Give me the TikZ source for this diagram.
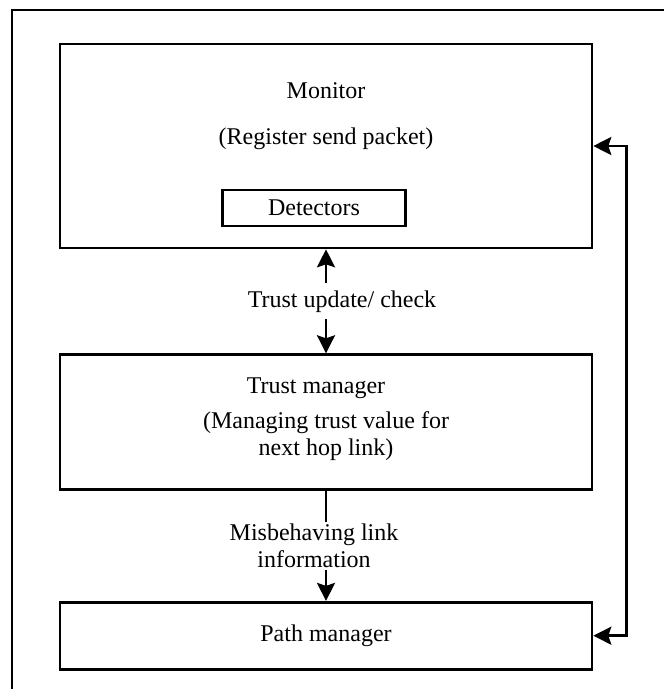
\documentclass[tikz,border=0pt]{standalone}
\usepackage{fontspec}
\setmainfont{Liberation Serif}
\usetikzlibrary{positioning, calc, arrows.meta}

\begin{document}
\begin{tikzpicture}[
        font=\fontsize{12}{13.5}\selectfont,
        node distance=52pt,
        % Style des blocs
        blockBox/.style={
            draw,
            line width=1.3pt,
            minimum width=266pt,
            align=center
        },
        % Style des textes libres
        txtNode/.style={
            align=center
        },
        % Style des flèches
        linkArrow/.style={
            -{Stealth[length=9pt, width=9pt, inset=1.5pt]},
            line width=1.3pt
        },
        bothArrow/.style={
            {Stealth[length=9pt, width=9pt, inset=1.5pt]}-{Stealth[length=9pt, width=9pt, inset=1.5pt]},
            line width=1.3pt
        }
    ]

    \useasboundingbox (0,0) rectangle (331.5pt,-344.5pt);

    % Cadre extérieur
    \draw[line width=1.3pt] (6pt,-5pt) rectangle (340pt,-352pt);

    % Moniteur
    \node[blockBox, minimum height=102pt] (monitor) at (163pt,-73pt) {};
    \node[txtNode] (monTitle) at ([yshift=-24pt]monitor.north) {Monitor};
    \node[txtNode] (monSub) at ([yshift=-48pt]monitor.north) {(Register send packet)};
    \node[blockBox, minimum width=91.5pt, minimum height=18pt, inner sep=0pt,
          above=11pt of monitor.south, xshift=-6pt] (detectors) {Detectors};

    % Gestionnaire de confiance
    \node[blockBox, minimum height=67.5pt, below=of monitor] (trust) {};
    \node[txtNode] (trustTitle) at ([xshift=-5pt, yshift=-17.5pt]trust.north) {Trust manager};
    \node[txtNode] (trustSub) at ([yshift=-41.25pt]trust.north) {(Managing trust value for\\next hop link)};

    % Gestionnaire de chemin
    \node[blockBox, minimum height=33.5pt, below=55pt of trust] (path) {Path manager};

    % Étiquettes entre les blocs
    \node[txtNode] (update) at ([xshift=8pt]$(monitor.south)!0.5!(trust.north)$) {Trust update/ check};
    \node[txtNode, inner sep=1pt] (misb) at ([xshift=-6pt]$(trust.south)!0.5!(path.north)$) {Misbehaving link\\information};

    % Flèches
    \draw[linkArrow] (update.north -| monitor.south) -- (monitor.south);
    \draw[linkArrow] (update.south -| monitor.south) -- (trust.north);
    \draw[line width=1.3pt] (trust.south) -- (misb.north -| trust.south);
    \draw[linkArrow] (misb.south -| trust.south) -- (path.north);

    % Retour vers le moniteur
    \draw[bothArrow] (path.east) -- ++(16.5pt,0) coordinate (turn) |- (monitor.east);

\end{tikzpicture}
\end{document}
